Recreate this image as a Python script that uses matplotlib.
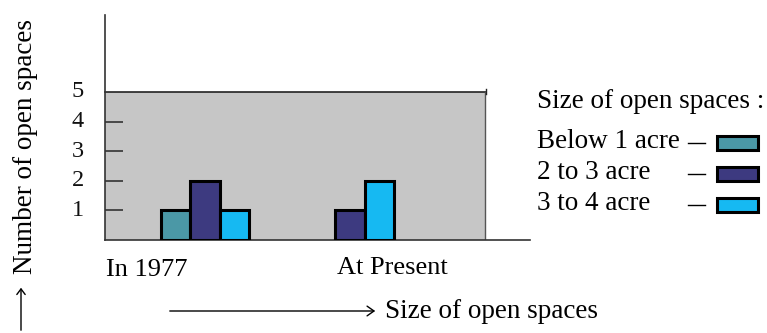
import matplotlib
matplotlib.use("Agg")
import matplotlib.pyplot as plt
from matplotlib.patches import Rectangle
from matplotlib.lines import Line2D
import numpy as np

plt.rcParams['font.family'] = ['Liberation Serif', 'DejaVu Serif']

categories = ["In 1977", "At Present"]
series_names = ["Below 1 acre", "2 to 3 acre", "3 to 4 acre"]
values = {
    "Below 1 acre": [1, 0],
    "2 to 3 acre": [2, 1],
    "3 to 4 acre": [1, 2],
}
colors = ["#4b98a6", "#3d3a80", "#16b9f2"]
yticks = [1, 2, 3, 4, 5]
ylabel = "Number of open spaces"
xlabel = "Size of open spaces"
legend_title = "Size of open spaces :"

W, H = 767, 333
fig = plt.figure(figsize=(W / 100, H / 100), dpi=100)

def fx(x):
    return x / W

def fy(y):
    return 1 - y / H

# axes spanning pixel x 105..530, y 15..240
ax = fig.add_axes([fx(105), fy(240), fx(530) - fx(105), fy(15) - fy(240)])
ax.set_xlim(-0.690, 2.241)
ax.set_ylim(0, 7.6)
ax.patch.set_alpha(0)

for s in ["top", "right"]:
    ax.spines[s].set_visible(False)
ax.spines["left"].set_color("#333333")
ax.spines["bottom"].set_color("#333333")
ax.spines["left"].set_linewidth(1.2)
ax.spines["bottom"].set_linewidth(1.2)

# gray plot area
gray_right = 1.931
ax.add_patch(Rectangle((-0.690, 0), gray_right + 0.690, 5, facecolor="#c6c6c6",
                       edgecolor="none", zorder=0))
ax.plot([-0.690, gray_right + 0.01], [5, 5], color="#222222", lw=1.2, zorder=1,
        clip_on=False)
ax.plot([gray_right, gray_right], [0, 5], color="#555555", lw=1.0, zorder=1)
ax.plot([gray_right + 0.01, gray_right + 0.01], [4.92, 5.1], color="#222222", lw=1.0,
        zorder=1)

x = np.arange(len(categories))
bw = 0.2034
n = len(series_names)
for i, name in enumerate(series_names):
    offs = (i - (n - 1) / 2) * bw
    vals = values[name]
    xs = [xi + offs for xi, v in zip(x, vals) if v > 0]
    vs = [v for v in vals if v > 0]
    ax.bar(xs, vs, width=bw, color=colors[i], edgecolor="black", linewidth=2.2,
           zorder=3)

ax.set_xticks([])
ax.set_yticks(yticks[:-1])
ax.set_yticklabels([])
ax.tick_params(axis="y", direction="in", length=13, width=1.2, color="#333333")
for t in yticks:
    ax.text(-0.690 - 0.186, t, str(t), ha="center", va="center", fontsize=17.5,
            color="#111111")

# category labels
fig.text(fx(106), fy(270), categories[0], ha="left", va="center", fontsize=19)
fig.text(fx(337), fy(268), categories[1], ha="left", va="center", fontsize=19)

# y label with arrow
fig.text(fx(26), fy(147), ylabel, rotation=90, ha="center", va="center", fontsize=19.5)
fig.add_artist(matplotlib.patches.FancyArrowPatch(
    (fx(21), fy(333)), (fx(21), fy(285)), transform=fig.transFigure,
    arrowstyle="->,head_length=4,head_width=3", lw=1.0, color="black",
    mutation_scale=1))

# x label with arrow
fig.add_artist(matplotlib.patches.FancyArrowPatch(
    (fx(167), fy(311)), (fx(378), fy(311)), transform=fig.transFigure,
    arrowstyle="->,head_length=5,head_width=3.5", lw=1.0, color="black",
    mutation_scale=1))
fig.text(fx(385), fy(311), xlabel, ha="left", va="center", fontsize=19.5)

# legend
fig.text(fx(537), fy(102), legend_title, ha="left", va="center", fontsize=19.5)
rows_y = [142, 173, 204]
for i, name in enumerate(series_names):
    y = rows_y[i]
    fig.text(fx(537), fy(y), name, ha="left", va="center", fontsize=19.5)
    fig.add_artist(Line2D([fx(688), fx(705)], [fy(y + 1), fy(y + 1)],
                          transform=fig.transFigure, color="black", lw=1.0))
    fig.add_artist(Rectangle((fx(717), fy(y + 8)), fx(758) - fx(717), fy(y - 6) - fy(y + 8),
                             transform=fig.transFigure, facecolor=colors[i],
                             edgecolor="black", linewidth=2.2))

fig.savefig("out.png", dpi=100)
